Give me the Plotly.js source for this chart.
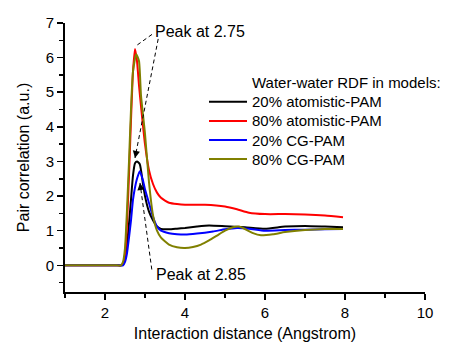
<!DOCTYPE html>
<html>
<head>
<meta charset="utf-8">
<script src="https://cdn.plot.ly/plotly-3.0.1.min.js"></script>
<style>html,body{margin:0;padding:0;background:#fff;}#chart{width:456px;height:342px;}</style>
</head>
<body>
<div id="chart"></div>
<script>
// ---- data ----
const seriesNames = ["20% atomistic-PAM", "80% atomistic-PAM", "20% CG-PAM", "80% CG-PAM"];
const seriesColors = ["#000000", "#ff0000", "#0000ff", "#808000"];

const xBlack = [1, 2.0, 2.3, 2.4, 2.45, 2.5, 2.55, 2.6, 2.65, 2.7, 2.75, 2.8, 2.87, 2.95, 3.0, 3.1, 3.2, 3.3, 3.4, 3.6, 3.8, 4.0, 4.3, 4.6, 5.0, 5.5, 6.0, 6.5, 7.0, 7.5, 7.95];
const yBlack = [0, 0, 0, 0, 0.03, 0.2, 0.6, 1.2, 1.9, 2.6, 2.95, 3.0, 2.92, 2.35, 2.0, 1.55, 1.3, 1.12, 1.05, 1.04, 1.06, 1.08, 1.12, 1.15, 1.13, 1.1, 1.06, 1.12, 1.14, 1.12, 1.1];

const xRed = [1, 2.0, 2.3, 2.4, 2.45, 2.5, 2.55, 2.6, 2.65, 2.7, 2.75, 2.8, 2.85, 2.9, 3.0, 3.1, 3.2, 3.3, 3.4, 3.5, 3.6, 3.8, 4.0, 4.5, 5.0, 5.3, 5.6, 6.0, 6.5, 7.0, 7.5, 7.95];
const yRed = [0, 0, 0, 0, 0.05, 0.3, 1.2, 2.6, 4.2, 5.6, 6.25, 5.9, 5.2, 4.6, 3.5, 2.75, 2.35, 2.1, 1.95, 1.87, 1.81, 1.77, 1.75, 1.75, 1.7, 1.62, 1.52, 1.48, 1.48, 1.47, 1.44, 1.39];

const xBlue = [1, 2.0, 2.35, 2.45, 2.5, 2.55, 2.6, 2.65, 2.7, 2.75, 2.8, 2.87, 2.95, 3.0, 3.1, 3.2, 3.3, 3.4, 3.6, 3.8, 4.0, 4.3, 4.7, 5.0, 5.3, 5.6, 6.0, 6.5, 7.0, 7.5, 7.95];
const yBlue = [0, 0, 0, 0, 0.1, 0.35, 0.8, 1.3, 1.9, 2.25, 2.5, 2.72, 2.45, 2.2, 1.8, 1.4, 1.12, 1.0, 0.93, 0.9, 0.89, 0.92, 0.98, 1.04, 1.08, 1.06, 1.0, 1.02, 1.03, 1.04, 1.05];

const xOlive = [1, 2.0, 2.3, 2.4, 2.45, 2.5, 2.55, 2.6, 2.65, 2.7, 2.78, 2.85, 2.9, 3.0, 3.1, 3.2, 3.3, 3.4, 3.6, 3.8, 4.0, 4.2, 4.4, 4.6, 4.8, 5.0, 5.2, 5.35, 5.5, 5.7, 5.9, 6.2, 6.5, 7.0, 7.5, 7.95];
const yOlive = [0, 0, 0, 0, 0.1, 0.5, 1.6, 3.0, 4.5, 5.6, 6.1, 5.9, 4.9, 3.8, 2.4, 1.45, 1.0, 0.8, 0.6, 0.52, 0.5, 0.53, 0.6, 0.72, 0.86, 1.0, 1.1, 1.12, 1.05, 0.93, 0.87, 0.9, 0.96, 1.02, 1.05, 1.05];

const legendTitle = "Water-water RDF in models:";
const xTitle = "Interaction distance (Angstrom)";
const yTitle = "Pair correlation (a.u.)";
const peakLabels = ["Peak at 2.75", "Peak at 2.85"];

// ---- layout helpers ----
const W = 456, H = 342;
const M = {l: 65, r: 31, t: 23, b: 50};
const PW = W - M.l - M.r, PH = H - M.t - M.b;
const px2x = p => (p - M.l) / PW;
const py2y = p => (H - M.b - p) / PH;
const FONT = "Liberation Sans, Arial, sans-serif";

const xs = [xBlack, xRed, xBlue, xOlive];
const ys = [yBlack, yRed, yBlue, yOlive];
const traces = xs.map((x, i) => ({
  type: "scatter", mode: "lines", x: x, y: ys[i], name: seriesNames[i],
  line: {color: seriesColors[i], width: 2, shape: "spline", smoothing: 0.5},
  showlegend: false
}));

const shapes = [];
const annotations = [];

// manual legend
annotations.push({xref: "paper", yref: "paper", x: px2x(250), y: py2y(82), xanchor: "left", yanchor: "middle",
  text: legendTitle, showarrow: false, font: {family: FONT, size: 15, color: "#000"}});
const rowY = [101.7, 121, 140, 159];
seriesNames.forEach((n, i) => {
  shapes.push({type: "line", xref: "paper", yref: "paper", x0: px2x(209), x1: px2x(247), y0: py2y(rowY[i]), y1: py2y(rowY[i]),
    line: {color: seriesColors[i], width: 2}});
  annotations.push({xref: "paper", yref: "paper", x: px2x(250), y: py2y(rowY[i]), xanchor: "left", yanchor: "middle",
    text: n, showarrow: false, font: {family: FONT, size: 15, color: "#000"}});
});

// peak labels
annotations.push({x: 3.2, y: 6.76, xanchor: "left", yanchor: "middle", text: peakLabels[0], showarrow: false,
  font: {family: FONT, size: 16, color: "#000"}});
annotations.push({x: 3.225, y: -0.25, xanchor: "left", yanchor: "middle", text: peakLabels[1], showarrow: false,
  font: {family: FONT, size: 16, color: "#000"}});

// dashed arrows: [tailX, tailY, headX, headY]
const arrows = [[3.175, 6.67, 2.8, 6.36], [3.33, 6.54, 2.75, 3.1], [3.17, -0.12, 2.875, 2.38]];
arrows.forEach(a => {
  shapes.push({type: "line", xref: "x", yref: "y", x0: a[0], y0: a[1], x1: a[2], y1: a[3],
    line: {color: "#000", width: 1, dash: "4px,3px"}});
  const t = 0.06;
  annotations.push({x: a[2], y: a[3], ax: a[2] + (a[0] - a[2]) * t, ay: a[3] + (a[1] - a[3]) * t,
    axref: "x", ayref: "y", text: "", showarrow: true, arrowhead: 2, arrowsize: 1.2, arrowwidth: 1.2,
    arrowcolor: "#000", standoff: 0});
});

const axisCommon = {
  showline: true, linecolor: "#000", linewidth: 2, ticks: "outside", ticklen: 6, tickwidth: 1.5, tickcolor: "#000",
  showgrid: false, zeroline: false, tickfont: {family: FONT, size: 15, color: "#000"},
};

const layout = {
  width: W, height: H, margin: M, paper_bgcolor: "#fff", plot_bgcolor: "#fff",
  font: {family: FONT, color: "#000"},
  xaxis: Object.assign({}, axisCommon, {
    range: [1, 10], tick0: 0, dtick: 2,
    minor: {dtick: 1, tick0: 0, ticks: "outside", ticklen: 4, tickwidth: 1.5, tickcolor: "#000"},
    title: {text: xTitle, font: {family: FONT, size: 16, color: "#000"}, standoff: 14}
  }),
  yaxis: Object.assign({}, axisCommon, {
    range: [-0.77, 7], tick0: 0, dtick: 1,
    minor: {dtick: 0.5, tick0: 0, ticks: "outside", ticklen: 4, tickwidth: 1.5, tickcolor: "#000"},
    title: {text: yTitle, font: {family: FONT, size: 16, color: "#000"}, standoff: 12}
  }),
  shapes: shapes, annotations: annotations, showlegend: false
};

Plotly.newPlot("chart", traces, layout, {displayModeBar: false, staticPlot: true});
</script>
</body>
</html>
